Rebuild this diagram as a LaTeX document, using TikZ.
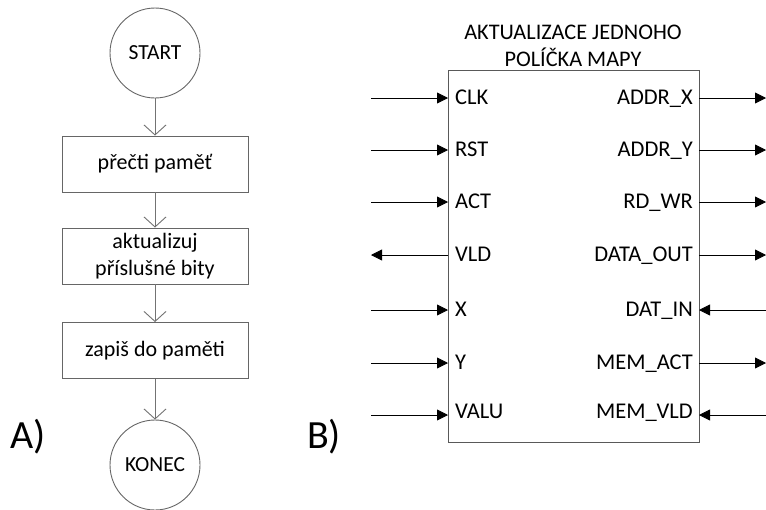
\documentclass[tikz,border=0pt]{standalone}
\usepackage{fontspec}
\setmainfont{Carlito}
\usetikzlibrary{arrows.meta}
\begin{document}
\begin{tikzpicture}[x=1pt,y=-1pt,
  fcline/.style={draw=black!60, line width=0.9pt},
  term/.style={fcline, circle, minimum size=90pt, inner sep=0pt, font=\fontsize{21.5}{25}\selectfont},
  proc/.style={fcline, rectangle, minimum width=186pt, minimum height=56pt, inner sep=0pt, align=center, font=\fontsize{22}{27}\selectfont},
  flow/.style={draw=black!55, line width=0.9pt, -{Straight Barb[length=10pt,width=22pt,line width=0.9pt]}},
  pinarrow/.style={draw=black, line width=0.8pt, -{Triangle[length=11pt,width=11pt]}},
  pinlab/.style={font=\fontsize{22.5}{25}\selectfont, inner sep=0pt},
  biglab/.style={font=\fontsize{40}{44}\selectfont, inner sep=0pt}
]
\useasboundingbox (0,0) rectangle (766,509);

% ---- A) flowchart ----
\node[term] (start) at (155,53) {START};
\node[proc] (p1) at (155,164) {přečti paměť};
\node[proc] (p2) at (155,256) {aktualizuj\\příslušné bity};
\node[proc] (p3) at (155,350.5) {zapiš do paměti};
\node[term] (konec) at (155,465) {KONEC};
\draw[flow] (start) -- (p1);
\draw[flow] (p1) -- (p2);
\draw[flow] (p2) -- (p3);
\draw[flow] (p3) -- (konec);
\node[biglab] (la) at (28,437) {A)};
\node[biglab] (lb) at (324,437) {B)};

% ---- B) block ----
\node[draw=black!65, line width=0.9pt, minimum width=251pt, minimum height=372pt, inner sep=0pt] (blk) at (573.5,256) {};
\node[align=center, font=\fontsize{22.3}{27}\selectfont, inner sep=0pt] (title) at (573,46) {AKTUALIZACE JEDNOHO\\POLÍČKA MAPY};

% left pins
\foreach \n/\y/\d/\t in {clk/98/6/CLK, rst/150/6/RST, act/202/6/ACT, vld/255/6/VLD, x/310/6/X, y/363/6/Y, valu/415/3/VALU}{
  \coordinate (l\n) at (371,\y);
  \coordinate (b\n) at (448,\y);
  \node[pinlab, anchor=base west] (t\n) at (455,\y+\d) {\t};
}
\foreach \n in {clk,rst,act,x,y,valu}{ \draw[pinarrow] (l\n) -- (b\n); }
\draw[pinarrow] (bvld) -- (lvld);

% right pins
\foreach \n/\y/\d/\t in {ax/98/6/ADDR\_X, ay/150/6/ADDR\_Y, rw/202/6/RD\_WR, dout/255/6/DATA\_OUT, din/310/6/DAT\_IN, mact/363/6/MEM\_ACT, mvld/415/3/MEM\_VLD}{
  \coordinate (r\n) at (766,\y);
  \coordinate (c\n) at (699,\y);
  \node[pinlab, anchor=base east] (u\n) at (693,\y+\d) {\t};
}
\foreach \n in {ax,ay,rw,dout,mact}{ \draw[pinarrow] (c\n) -- (r\n); }
\draw[pinarrow] (rdin) -- (cdin);
\draw[pinarrow] (rmvld) -- (cmvld);
\end{tikzpicture}
\end{document}
